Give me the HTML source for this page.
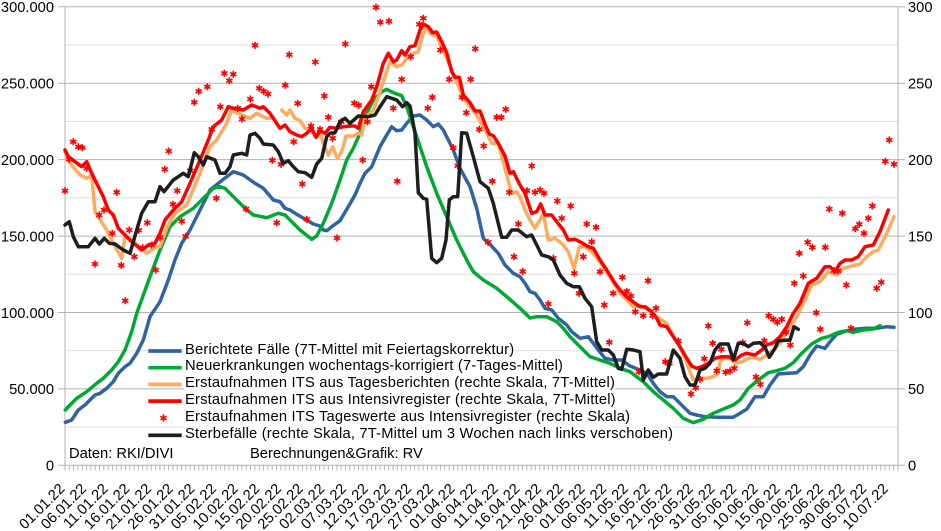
<!DOCTYPE html>
<html><head><meta charset="utf-8"><style>
html,body{margin:0;padding:0;background:#fff}
#w{position:relative;width:941px;height:531px;overflow:hidden;font-family:"Liberation Sans",sans-serif}
svg{position:absolute;left:0;top:0}
.lg{position:absolute;left:184px;font-size:14.7px;line-height:16.8px;height:16.8px;background:#fff;white-space:nowrap;color:#000;padding-left:1px;letter-spacing:0.2px}
</style></head><body><div id="w">
<svg width="941" height="531" viewBox="0 0 941 531" xmlns="http://www.w3.org/2000/svg" font-family="Liberation Sans, sans-serif" font-size="14.7">
<defs>
<pattern id="tk" patternUnits="userSpaceOnUse" x="64.5" y="465" width="4.316" height="6"><rect x="0" y="0" width="1" height="5.5" fill="#b3b3b3"/></pattern>
<path id="s" d="M0,-3.6V3.6M-3.1,-1.8L3.1,1.8M-3.1,1.8L3.1,-1.8" stroke="#ff0000" stroke-width="1.6" fill="none"/>
</defs>
<rect width="941" height="531" fill="#fff"/>
<g stroke="#dddddd" stroke-width="1">
<path d="M65,427.1H898M65,350.7H898M65,274.3H898M65,197.8H898M65,121.4H898M65,45H898"/>
</g>
<g stroke="#b3b3b3" stroke-width="1">
<path d="M58,388.9H905M58,312.5H905M58,236.1H905M58,159.6H905M58,83.2H905M58,6.8H905M58,465.3H905"/>
<path d="M65,6.8V465.3M898,6.8V465.3"/>
</g>
<rect x="64" y="465.5" width="836" height="5.5" fill="url(#tk)"/>
<g fill="#000" text-anchor="end">
<text x="54" y="12.1">300.000</text>
<text x="54" y="88.5">250.000</text>
<text x="54" y="164.9">200.000</text>
<text x="54" y="241.4">150.000</text>
<text x="54" y="317.8">100.000</text>
<text x="54" y="394.2">50.000</text>
<text x="54" y="470.6">0</text>
</g>
<g fill="#000">
<text x="908" y="12.1">300</text>
<text x="908" y="88.5">250</text>
<text x="908" y="164.9">200</text>
<text x="908" y="241.4">150</text>
<text x="908" y="317.8">100</text>
<text x="908" y="394.2">50</text>
<text x="908" y="470.6">0</text>
</g>
<g fill="none" stroke-width="3.5" stroke-linejoin="round" stroke-linecap="round">
<polyline stroke="#2f64a0" points="65.3,422.3 71.7,420 78.3,410 85,405 95,395 100,393.3 106.7,388.3 113.3,381.7 118.3,373.3 125,366.7 130,363.3 136.7,353.3 143.3,340 150,316.7 160,301.7 168.3,280 175,260 181.7,243.3 190,230 201.7,206.7 210,190 218.3,183.3 226.7,176.7 233.3,171.7 243.3,175 255,183.3 263.3,188.3 273.3,200 280,201.7 285,208.3 290,210 296.7,214.3 306.7,220 313.3,224 320,226 323.3,230 326.7,230.7 331.7,226.7 340,220.7 348.3,206.7 355,195 360,183.3 365,173.3 371.7,166.7 380,146.7 386.7,135 391.7,126.7 396.7,130.7 401.7,130 406.7,123.3 413.3,116 420,115 426.7,120 433.3,126.7 438.3,124 443.3,130 453.3,150 460,168.3 470,186.7 476.7,208.3 483.3,238.3 490,244.3 498.3,253.3 505,265 513.3,273.3 520,276.7 525,283.3 530,291.7 535,293.3 540,300 545,308.3 551.7,310 558.3,318.3 566.7,325 571.7,331.7 580,338.3 588.3,336.7 593.3,343.3 598.3,350 605,358.3 613.3,360 621.7,360 630,366 640,370 646.7,373.3 653.3,383.3 660,391.7 666.7,396.7 673.3,396.7 683.3,406.7 690,413.3 696.7,415 705,416.7 716.7,417.3 726.7,417.3 733.3,417.3 740,413.3 746.7,409.3 755,396.7 763.3,396.7 770,385 778.3,374 788.3,373.3 796.7,372.7 803.3,366.7 810,355 816.7,346 825,348.3 830,341.7 836.7,334.3 846.7,330.7 856.7,329 866.7,328.3 876.7,328.3 886.7,326.7 894,327.3"/>
<polyline stroke="#00a933" points="65.3,410 70,405 76.7,398.3 86.7,391.7 96.7,383.3 103.3,378.3 111.7,370 118.3,361.7 125,350 131.7,331.7 136.7,313.3 150,276.7 160,250 170,226.7 180,216.7 193.3,208.3 203.3,198.3 213.3,188.3 220,186.7 225,188.3 233.3,196.7 245,208.3 253.3,215 266.7,217.7 278.3,213.3 285,215 293.3,223.3 300,230 311.7,239.3 316.7,236 323.3,223.3 331.7,203.3 340,180 346.7,160 353.3,148.3 360,133.3 366.7,113.3 373.3,100 381.7,91.7 386.7,89.3 393.3,92.7 401.7,95.7 406.7,106.7 416.7,136.7 426.7,166.7 436.7,193.3 446.7,216.7 456.7,240 466.7,260 473.3,271.7 483.3,280 496.7,288.3 506.7,296.7 520,308.3 530,318 536.7,316.7 546.7,316.7 556.7,321.7 563.3,328.3 570,336.7 580,346.7 590,356.7 600,360 610,363.3 620,368.3 630,371.7 643.3,381.7 653.3,391.7 663.3,400 673.3,408.3 683.3,418.3 693.3,422.7 703.3,419.3 713.3,413.3 723.3,409 733.3,405 740,400 748.3,388.3 758.3,380 768.3,372.7 776.7,370.7 785,368.3 793.3,362.7 801.7,353.3 811.7,344 821.7,338.3 828.3,336.7 838.3,332.3 846.7,330.7 853.3,332.3 863.3,330 873.3,329 880,325.7"/>
<polyline stroke="#ffaa5e" points="65,151.7 70,163.3 80,175 86.7,178.3 91.7,175 95,211.7 106.7,230 113.3,243.3 121.7,258.3 125,236.7 131.7,240 146.7,253.3 156.7,246.7 160,246.7 166.7,228.3 175,213.3 186.7,205 200,173.3 210,146.7 216.7,140 226.7,123.3 231.7,110 241.7,115 250,118.3 256.7,113.3 266.7,118.3 271.7,118.3"/>
<polyline stroke="#ffaa5e" points="281.7,110 286.7,115 290,110 295,118.3 300,120.7 305,128.3 310,130 316,137 320,133 323.3,143.3 328.3,155 332.7,146.7 337.3,158.3 341.7,151.7 346,136 353.3,136 358.3,133.3 361.7,135 365,118.3 373.3,110 378.3,96.7 383.3,81.7 390,61.7 396.7,66.7 401.7,65 406.7,58.3 413.3,53.3 418.3,51.7 423.3,33.3 426.7,26.7 430,33.3 436.7,36.7 446.7,58.3 456.7,81.7 463.3,98.3 476.7,115 486.7,133.3 491.7,143.3 498.3,143.3 506.7,175 511.7,193.3 516.7,191.7 520,196.7 525,210 530,220 535,228.3 540,220 543.3,213.3 548.3,240 555,238.3 561.7,243.3 568.3,251.7 574,268.3 579.3,246.7 585,246.7 591.7,251.7 600,262 606.7,272 620,293.3 633.3,306.7 640,305 648.3,310 656.7,316.7 666.7,323.3 671.7,333.3 678.3,343.3 685,358.3 690,371.7 693.3,380 700,378.3 706.7,378.3 713.3,376.7 718.3,373.3 720,362 725,357 730,359 735,363 741.7,362 748.3,358.3 753.3,357.3 760,359.3 766.7,355 773.3,350 780,343.3 788.3,330 796.7,316.7 805,300 811.7,285 820,281.7 828.3,271.7 836.7,275 843.3,268.3 851.7,266 860,264 866.7,256.7 873.3,251.7 878.3,250 886.7,233.3 894,216.7"/>
<polyline stroke="#ff0000" points="65,150 68.3,156.7 81.7,166.7 86.7,161.7 91.7,173.3 103.3,196.7 108.3,210 113.3,215 118.3,228.3 125,235 131.7,241.7 141.7,250 148.3,245 155,243.3 160,233.3 165,220 173.3,210 181.7,201.7 190,183.3 200,160 208.3,140 213.3,126.7 221.7,120 228.3,106.7 233.3,108.3 243.3,110 251.7,105 260,108.3 263.3,106.7 270,113.3 280,128.3 285,125 290,131.7 296.7,135 301.7,136.7 306.7,133.3 311.7,128.3 316,137.3 320,130.7 325,133.3 330,127.3 336.7,128.3 343.3,126.7 350,126 355,126 358.3,128.3 363.3,111.7 371.7,100 376.7,86.7 383.3,63.3 388.3,53.3 393.3,61.7 396.7,60 401.7,50.7 405,55 410,46.7 415,45.7 420,30 423.3,24 428.3,26.7 432.7,32.7 436.7,32 441.7,41.7 446.7,52.7 451.7,71.7 455,77.3 459.3,77.3 463.3,95 470,102.7 475,111 480,111 485,124.3 489.3,134 493.3,135.7 498.3,143.3 505,156 510,173.3 513.3,171.7 520,185 525,193.3 531.7,213.3 536.7,211.7 540.7,204 545,215 551.7,215 556.7,221.7 563.3,230 568.3,240 575,239.3 581.7,242.7 588.3,246.7 593.3,248.3 600,260 606.7,270 615,283.3 620,290 626.7,296.7 635,303.3 640,306.7 645,306.7 651.7,311.7 656.7,318.3 660,325 666.7,326.7 673.3,336.7 680,346.7 686.7,358.3 691.7,366 696.7,368.3 701.7,366.7 708.3,363.3 715,358.3 721.7,356.7 728.3,356.7 735,360 741.7,355 746.7,353.3 755,355 761.7,350 766.7,345 773.3,342.7 780,336.7 786.7,326.7 793.3,313.3 800,303.3 808.3,283.3 816.7,278.3 825,266.7 830,266.7 835,271.7 840,263.3 845,260 851.7,260 858.3,256.7 865,246.7 873.3,245 880,231.7 888.3,210"/>
</g>
<g>
<use href="#s" x="65" y="190.7"/><use href="#s" x="69.3" y="159.3"/><use href="#s" x="73.3" y="141.7"/><use href="#s" x="78.3" y="146.7"/><use href="#s" x="82.3" y="147.7"/><use href="#s" x="86.7" y="168.3"/><use href="#s" x="95" y="264"/><use href="#s" x="99.3" y="215"/><use href="#s" x="104" y="210"/><use href="#s" x="112.3" y="233.3"/><use href="#s" x="116.7" y="192.3"/><use href="#s" x="121.3" y="265.3"/><use href="#s" x="125.3" y="300.7"/><use href="#s" x="129.3" y="230"/><use href="#s" x="134.3" y="256.7"/><use href="#s" x="138.7" y="230.3"/><use href="#s" x="142.7" y="247.7"/><use href="#s" x="147.3" y="222.7"/><use href="#s" x="151.7" y="245"/><use href="#s" x="155.7" y="270"/><use href="#s" x="160" y="237.3"/><use href="#s" x="164.7" y="169.3"/><use href="#s" x="168.7" y="151"/><use href="#s" x="173" y="204.3"/><use href="#s" x="177.3" y="190.7"/><use href="#s" x="181.7" y="221.3"/><use href="#s" x="185.7" y="236.3"/><use href="#s" x="190.3" y="170.7"/><use href="#s" x="194.3" y="102.3"/><use href="#s" x="198.7" y="91.3"/><use href="#s" x="207.3" y="86.7"/><use href="#s" x="211.7" y="129.3"/><use href="#s" x="216.3" y="198.3"/><use href="#s" x="220.3" y="106.7"/><use href="#s" x="224.3" y="73.3"/><use href="#s" x="229.3" y="80.7"/><use href="#s" x="233.3" y="74.3"/><use href="#s" x="237.7" y="108.3"/><use href="#s" x="242" y="119"/><use href="#s" x="246" y="209"/><use href="#s" x="250.3" y="99"/><use href="#s" x="255" y="45.3"/><use href="#s" x="259.3" y="88.3"/><use href="#s" x="263.7" y="91.3"/><use href="#s" x="268" y="94"/><use href="#s" x="272.3" y="160.3"/><use href="#s" x="276.7" y="222.7"/><use href="#s" x="281" y="164.3"/><use href="#s" x="285.3" y="85.3"/><use href="#s" x="289.3" y="54.7"/><use href="#s" x="293.7" y="141.7"/><use href="#s" x="297.7" y="103.3"/>
<use href="#s" x="302.3" y="184"/><use href="#s" x="306.7" y="219.3"/><use href="#s" x="311" y="126"/><use href="#s" x="315.3" y="62"/><use href="#s" x="320" y="129.3"/><use href="#s" x="324.3" y="96"/><use href="#s" x="328.3" y="117.3"/><use href="#s" x="332.7" y="138.3"/><use href="#s" x="337" y="238"/><use href="#s" x="341.3" y="121.7"/><use href="#s" x="345.3" y="44"/><use href="#s" x="354.3" y="103.3"/><use href="#s" x="358.7" y="105.3"/><use href="#s" x="362.7" y="160"/><use href="#s" x="367.3" y="121.7"/><use href="#s" x="371.3" y="86.7"/><use href="#s" x="376" y="7.3"/><use href="#s" x="380.3" y="22.3"/><use href="#s" x="389" y="21.3"/><use href="#s" x="393.3" y="108.3"/><use href="#s" x="397.3" y="181.3"/><use href="#s" x="401.7" y="79.3"/><use href="#s" x="410.7" y="56.7"/><use href="#s" x="419.3" y="24.3"/><use href="#s" x="423.3" y="18.3"/><use href="#s" x="427.7" y="108.3"/><use href="#s" x="432.3" y="97.3"/><use href="#s" x="440.3" y="50"/><use href="#s" x="449.3" y="79.3"/><use href="#s" x="453.3" y="147.7"/><use href="#s" x="457.7" y="165.7"/><use href="#s" x="462" y="97.3"/><use href="#s" x="466.3" y="112.7"/><use href="#s" x="470.7" y="79.3"/><use href="#s" x="475.3" y="48.7"/><use href="#s" x="479.3" y="129.3"/><use href="#s" x="483.7" y="146"/><use href="#s" x="488" y="242.3"/><use href="#s" x="492.3" y="181.3"/><use href="#s" x="496.7" y="117.3"/><use href="#s" x="501.3" y="117.3"/><use href="#s" x="505.7" y="109.3"/><use href="#s" x="509.3" y="192.3"/><use href="#s" x="514" y="256.7"/><use href="#s" x="518.3" y="224"/><use href="#s" x="522.7" y="271.5"/><use href="#s" x="527" y="190.7"/>
<use href="#s" x="531.7" y="166"/><use href="#s" x="535" y="192.3"/><use href="#s" x="540" y="190"/><use href="#s" x="544" y="193.3"/><use href="#s" x="548.3" y="304"/><use href="#s" x="553.3" y="258.3"/><use href="#s" x="557.3" y="201"/><use href="#s" x="561.7" y="218.3"/><use href="#s" x="570.7" y="206"/><use href="#s" x="574.3" y="273.3"/><use href="#s" x="579" y="293.3"/><use href="#s" x="583.3" y="256.7"/><use href="#s" x="586.7" y="224"/><use href="#s" x="591.7" y="241.7"/><use href="#s" x="596" y="227.3"/><use href="#s" x="600" y="271.7"/><use href="#s" x="604.3" y="305"/><use href="#s" x="609.3" y="342.3"/><use href="#s" x="613.3" y="293.3"/><use href="#s" x="622.3" y="277.3"/><use href="#s" x="626.7" y="291.3"/><use href="#s" x="631" y="296"/><use href="#s" x="635.3" y="311.7"/><use href="#s" x="639" y="371.7"/><use href="#s" x="643.3" y="315.7"/><use href="#s" x="648" y="280.7"/><use href="#s" x="652.7" y="315.7"/><use href="#s" x="656" y="308.3"/><use href="#s" x="665.3" y="361.7"/><use href="#s" x="669.3" y="363.3"/><use href="#s" x="678.3" y="341"/><use href="#s" x="691" y="394"/><use href="#s" x="695.7" y="387.7"/><use href="#s" x="700" y="379.3"/><use href="#s" x="704.3" y="358.7"/><use href="#s" x="708.3" y="326"/><use href="#s" x="712.7" y="343.3"/><use href="#s" x="716.7" y="370.7"/><use href="#s" x="721.3" y="349.3"/><use href="#s" x="725.7" y="372.3"/><use href="#s" x="730" y="371"/><use href="#s" x="734.3" y="368.3"/><use href="#s" x="742.7" y="342.7"/><use href="#s" x="747.3" y="322.7"/><use href="#s" x="756" y="377"/><use href="#s" x="760.3" y="384.3"/><use href="#s" x="764.3" y="340.7"/><use href="#s" x="768.7" y="315.7"/><use href="#s" x="773.3" y="319.3"/><use href="#s" x="777.3" y="322.3"/><use href="#s" x="781.7" y="319.3"/><use href="#s" x="786" y="332.3"/><use href="#s" x="790.3" y="345"/><use href="#s" x="794.3" y="283.3"/><use href="#s" x="799.3" y="253.3"/><use href="#s" x="803.3" y="276"/><use href="#s" x="807.7" y="242.3"/><use href="#s" x="812.3" y="247.3"/><use href="#s" x="816.3" y="312.7"/><use href="#s" x="820.3" y="329.3"/><use href="#s" x="825.3" y="247.3"/><use href="#s" x="829.3" y="209"/><use href="#s" x="834" y="270.7"/><use href="#s" x="838.3" y="270.7"/><use href="#s" x="842.3" y="213.3"/><use href="#s" x="846.3" y="285"/><use href="#s" x="851" y="328.3"/><use href="#s" x="855.3" y="228.7"/><use href="#s" x="859.3" y="224.3"/><use href="#s" x="864" y="233.3"/><use href="#s" x="868.3" y="218.3"/><use href="#s" x="872.3" y="206"/><use href="#s" x="876.7" y="288.3"/><use href="#s" x="881.3" y="282.3"/><use href="#s" x="885.3" y="161.3"/><use href="#s" x="889.3" y="140"/><use href="#s" x="894" y="164.3"/>
</g>
<polyline fill="none" stroke="#1e1e1e" stroke-width="3.5" stroke-linejoin="round" stroke-linecap="round" points="65,225 69.3,221.7 73.3,236.7 78.3,246.7 88.3,246.7 95,238.3 99.3,244 104.3,238.3 109.3,243.3 115,244 123.3,250 130,253.3 136.7,230 141.7,213.3 148.3,201.7 155,201.7 160,186.7 164,191.7 173.3,180 183.3,173.3 188.3,176.7 194.3,152.7 198.3,156.7 203.3,165 206.7,156.7 215,160 220,173.3 225,173.3 230,166.7 233.3,155 241.7,153.3 246.7,155 250,135 255,133.3 260,138.3 263.3,144 273.3,145 278.3,151.7 283.3,163.3 288.3,160.7 293.3,166.7 298.3,171.7 305,172.7 311.7,177.3 316.7,164 321.7,158.3 326.7,136.7 330,133.3 335,132.7 340,121.7 345,118.3 350,123.3 358.3,116 368.3,116.7 375,115 380,106.7 386.7,96.7 391.7,98.3 396.7,100 402.7,106.7 406.7,102.7 410,106 415,133.3 418.3,192.7 423.3,198.3 426.7,199.3 431.7,258.3 436.7,262.7 441.7,258.3 446,240 449.3,200 453.3,196.7 457.7,196.7 461.7,132.7 466.7,133.3 473.3,156.7 480,181.7 488.3,188.3 493.3,203.3 501.7,237.3 506.7,237.3 511.7,230 518.3,230 526.7,236.7 531.7,235 536.7,245 541.7,255 548.3,256.7 553.3,260 560,275 566.7,283.3 573.3,286.7 579.3,286.7 585,298.3 591.7,306.7 596.7,341.7 601.7,350 608.3,350 613.3,355 618.3,368.3 621.7,369.3 626.7,349.3 633.3,350 640,351.7 643.3,380 648.3,370 653.3,377.3 658.3,374 666.7,374 673.3,350 680,358.3 685,376.7 690,385 695,385 700,370 705,368.3 710,363.3 715,350 720,344 728.3,344 733.3,360 738.3,343.3 743.3,343.3 748.3,346.7 753.3,343.3 760,342.7 765,347.3 769.3,357.3 775,348.3 778.3,340.7 790,340 794,326.7 798.3,329.3"/>
<g stroke-width="3.7">
<line x1="148.3" y1="351" x2="181.7" y2="351" stroke="#2f64a0"/>
<line x1="148.3" y1="367.7" x2="181.7" y2="367.7" stroke="#00a933"/>
<line x1="148.3" y1="384.4" x2="181.7" y2="384.4" stroke="#ffaa5e"/>
<line x1="148.3" y1="401.1" x2="181.7" y2="401.1" stroke="#ff0000"/>
<line x1="148.3" y1="435.3" x2="181.7" y2="435.3" stroke="#1e1e1e"/>
</g>
<use href="#s" x="163.5" y="418"/>
<text x="69" y="458" fill="#000">Daten: RKI/DIVI</text>
<text x="250" y="458" fill="#000">Berechnungen&amp;Grafik: RV</text>
<g fill="#000" text-anchor="end">
<text transform="translate(65.5,489.5) rotate(-45)">01.01.22</text>
<text transform="translate(87.2,489.5) rotate(-45)">06.01.22</text>
<text transform="translate(108.8,489.5) rotate(-45)">11.01.22</text>
<text transform="translate(130.5,489.5) rotate(-45)">16.01.22</text>
<text transform="translate(152.2,489.5) rotate(-45)">21.01.22</text>
<text transform="translate(173.9,489.5) rotate(-45)">26.01.22</text>
<text transform="translate(195.5,489.5) rotate(-45)">31.01.22</text>
<text transform="translate(217.2,489.5) rotate(-45)">05.02.22</text>
<text transform="translate(238.9,489.5) rotate(-45)">10.02.22</text>
<text transform="translate(260.5,489.5) rotate(-45)">15.02.22</text>
<text transform="translate(282.2,489.5) rotate(-45)">20.02.22</text>
<text transform="translate(303.9,489.5) rotate(-45)">25.02.22</text>
<text transform="translate(325.5,489.5) rotate(-45)">02.03.22</text>
<text transform="translate(347.2,489.5) rotate(-45)">07.03.22</text>
<text transform="translate(368.9,489.5) rotate(-45)">12.03.22</text>
<text transform="translate(390.6,489.5) rotate(-45)">17.03.22</text>
<text transform="translate(412.2,489.5) rotate(-45)">22.03.22</text>
<text transform="translate(433.9,489.5) rotate(-45)">27.03.22</text>
<text transform="translate(455.6,489.5) rotate(-45)">01.04.22</text>
<text transform="translate(477.2,489.5) rotate(-45)">06.04.22</text>
<text transform="translate(498.9,489.5) rotate(-45)">11.04.22</text>
<text transform="translate(520.6,489.5) rotate(-45)">16.04.22</text>
<text transform="translate(542.2,489.5) rotate(-45)">21.04.22</text>
<text transform="translate(563.9,489.5) rotate(-45)">26.04.22</text>
<text transform="translate(585.6,489.5) rotate(-45)">01.05.22</text>
<text transform="translate(607.3,489.5) rotate(-45)">06.05.22</text>
<text transform="translate(628.9,489.5) rotate(-45)">11.05.22</text>
<text transform="translate(650.6,489.5) rotate(-45)">16.05.22</text>
<text transform="translate(672.3,489.5) rotate(-45)">21.05.22</text>
<text transform="translate(693.9,489.5) rotate(-45)">26.05.22</text>
<text transform="translate(715.6,489.5) rotate(-45)">31.05.22</text>
<text transform="translate(737.3,489.5) rotate(-45)">05.06.22</text>
<text transform="translate(758.9,489.5) rotate(-45)">10.06.22</text>
<text transform="translate(780.6,489.5) rotate(-45)">15.06.22</text>
<text transform="translate(802.3,489.5) rotate(-45)">20.06.22</text>
<text transform="translate(824,489.5) rotate(-45)">25.06.22</text>
<text transform="translate(845.6,489.5) rotate(-45)">30.06.22</text>
<text transform="translate(867.3,489.5) rotate(-45)">05.07.22</text>
<text transform="translate(889,489.5) rotate(-45)">10.07.22</text>
</g>
</svg>
<div class="lg" style="top:341.5px">Berichtete Fälle (7T-Mittel mit Feiertagskorrektur)</div>
<div class="lg" style="top:358.3px">Neuerkrankungen wochentags-korrigiert (7-Tages-Mittel)</div>
<div class="lg" style="top:375.1px">Erstaufnahmen ITS aus Tagesberichten (rechte Skala, 7T-Mittel)</div>
<div class="lg" style="top:391.9px">Erstaufnahmen ITS aus Intensivregister (rechte Skala, 7T-Mittel)</div>
<div class="lg" style="top:408.7px">Erstaufnahmen ITS Tageswerte aus Intensivregister (rechte Skala)</div>
<div class="lg" style="top:425.5px">Sterbefälle (rechte Skala, 7T-Mittel um 3 Wochen nach links verschoben)</div>
</div></body></html>
